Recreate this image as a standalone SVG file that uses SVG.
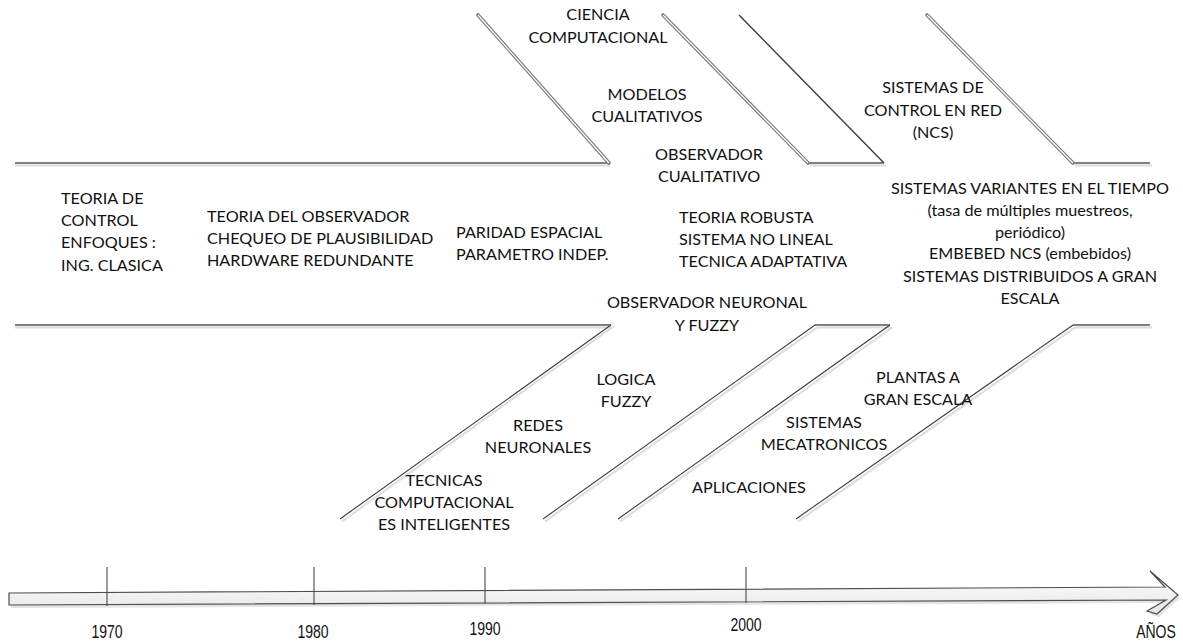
<svg xmlns="http://www.w3.org/2000/svg" width="1183" height="643" viewBox="0 0 1183 643">
  <defs>
    <linearGradient id="shaftFill" x1="0" y1="0" x2="0" y2="1">
      <stop offset="0" stop-color="#ffffff"/>
      <stop offset="1" stop-color="#e6e6e6"/>
    </linearGradient>
    <style>
      text { font-family: Lato, "Liberation Sans", "Noto Sans", sans-serif; font-size: 16.2px; fill: #111111; }
      .c { text-anchor: middle; }
      .yr { font-family: "Liberation Sans", Arial, sans-serif; font-size: 18px; text-anchor: middle; }
      .shadow { stroke: #dcdcdc; stroke-width: 2; fill: none; }
      .flat { stroke: #808080; stroke-width: 2.2; fill: none; }
      .dblOuter { stroke: #7a7a7a; stroke-width: 3.6; fill: none; stroke-linecap: round; }
      .dblInner { stroke: #ffffff; stroke-width: 1.3; fill: none; }
      .dark { stroke: #3c3c3c; stroke-width: 1.4; fill: none; }
      .thin { stroke: #3c3c3c; stroke-width: 1.1; fill: none; }
      .tick { stroke: #4a4a4a; stroke-width: 1.1; }
    </style>
  </defs>

  <rect width="1183" height="643" fill="#ffffff"/>

  <!-- branch lines of the chart -->
  <g id="connectors">
    <!-- drop shadows -->
    <g class="shadow">
      <path d="M15 165.5 H610"/>
      <path d="M810 165.5 H886"/>
      <path d="M1075 165.5 H1152"/>
      <path d="M15 327.5 H612 L342 521.5"/>
      <path d="M817 327.5 H892"/>
      <path d="M817 327.5 L545 521.5"/>
      <path d="M892 327.5 L620 521.5"/>
      <path d="M1075 327.5 H1152"/>
      <path d="M1075 327.5 L798 521.5"/>
    </g>

    <!-- upper branches -->
    <path class="flat" d="M15 163 H609"/>
    <path class="dblOuter" d="M609 163 L478 15"/>
    <path class="dblInner" d="M609 163 L478 15"/>

    <path class="dblOuter" d="M663 15 L808 163"/>
    <path class="dblInner" d="M663 15 L808 163"/>
    <path class="flat" d="M808 163 H884"/>

    <path class="dark" d="M739 15 L884 163"/>

    <path class="dblOuter" d="M927 15 L1073 163"/>
    <path class="dblInner" d="M927 15 L1073 163"/>
    <path class="flat" d="M1073 163 H1150"/>

    <!-- lower branches -->
    <path class="flat" d="M15 325 H611"/>
    <path class="thin" d="M611 325 L340 519"/>

    <path class="flat" d="M815 325 H890"/>
    <path class="thin" d="M815 325 L543 519"/>
    <path class="thin" d="M890 325 L618 519"/>

    <path class="flat" d="M1073 325 H1150"/>
    <path class="thin" d="M1073 325 L796 519"/>
  </g>

  <!-- time axis -->
  <g id="timeline">
    <polygon points="11,596 1167,590 1152,574 1180,598 1159,617 1149,614 1168,603 11,608" fill="#d9d9d9" opacity="0.7"/>
    <polygon points="9,593 1165,587 1150,571 1178,595 1157,614 1147,611 1166,600 9,605" fill="url(#shaftFill)" stroke="#4d4d4d" stroke-width="1.2" stroke-linejoin="miter"/>
    <line class="tick" x1="107" y1="567" x2="107" y2="606"/>
    <line class="tick" x1="314" y1="567" x2="314" y2="605"/>
    <line class="tick" x1="485" y1="567" x2="485" y2="604"/>
    <line class="tick" x1="746" y1="567" x2="746" y2="603"/>
    <text class="yr" transform="translate(107 638) scale(0.78 1)">1970</text>
    <text class="yr" transform="translate(313 638) scale(0.78 1)">1980</text>
    <text class="yr" transform="translate(485 635) scale(0.78 1)">1990</text>
    <text class="yr" transform="translate(746 631) scale(0.78 1)">2000</text>
    <text class="yr" transform="translate(1156 638) scale(0.78 1)">AÑOS</text>
  </g>

  <!-- upper band labels -->
  <g id="node-teoria-control">
    <text x="61" y="204">TEORIA DE</text>
    <text x="61" y="226">CONTROL</text>
    <text x="61" y="248">ENFOQUES :</text>
    <text x="61" y="271">ING. CLASICA</text>
  </g>
  <g id="node-teoria-observador">
    <text x="207" y="222">TEORIA DEL OBSERVADOR</text>
    <text x="207" y="244">CHEQUEO DE PLAUSIBILIDAD</text>
    <text x="207" y="266">HARDWARE REDUNDANTE</text>
  </g>
  <g id="node-paridad">
    <text x="456" y="238">PARIDAD ESPACIAL</text>
    <text x="456" y="260">PARAMETRO INDEP.</text>
  </g>
  <g id="node-teoria-robusta">
    <text x="679" y="223">TEORIA ROBUSTA</text>
    <text x="679" y="245">SISTEMA NO LINEAL</text>
    <text x="679" y="267">TECNICA ADAPTATIVA</text>
  </g>
  <g id="node-variantes" class="c">
    <text x="1030" y="194">SISTEMAS VARIANTES EN EL TIEMPO</text>
    <text x="1030" y="216">(tasa de múltiples muestreos,</text>
    <text x="1030" y="238">periódico)</text>
    <text x="1030" y="259">EMBEBED NCS (embebidos)</text>
    <text x="1030" y="282">SISTEMAS DISTRIBUIDOS A GRAN</text>
    <text x="1030" y="304">ESCALA</text>
  </g>

  <!-- upper branch labels -->
  <g id="node-ciencia" class="c">
    <text x="598" y="20">CIENCIA</text>
    <text x="598" y="43">COMPUTACIONAL</text>
  </g>
  <g id="node-modelos" class="c">
    <text x="647" y="100">MODELOS</text>
    <text x="647" y="122">CUALITATIVOS</text>
  </g>
  <g id="node-obs-cualitativo" class="c">
    <text x="709" y="160">OBSERVADOR</text>
    <text x="709" y="182">CUALITATIVO</text>
  </g>
  <g id="node-ncs" class="c">
    <text x="933" y="93">SISTEMAS DE</text>
    <text x="933" y="116">CONTROL EN RED</text>
    <text x="933" y="138">(NCS)</text>
  </g>

  <!-- lower branch labels -->
  <g id="node-obs-neuronal" class="c">
    <text x="707" y="308">OBSERVADOR NEURONAL</text>
    <text x="707" y="331">Y FUZZY</text>
  </g>
  <g id="node-logica" class="c">
    <text x="626" y="385">LOGICA</text>
    <text x="626" y="407">FUZZY</text>
  </g>
  <g id="node-redes" class="c">
    <text x="538" y="431">REDES</text>
    <text x="538" y="453">NEURONALES</text>
  </g>
  <g id="node-tecnicas" class="c">
    <text x="444" y="486">TECNICAS</text>
    <text x="444" y="508">COMPUTACIONAL</text>
    <text x="444" y="530">ES INTELIGENTES</text>
  </g>
  <g id="node-plantas" class="c">
    <text x="918" y="383">PLANTAS A</text>
    <text x="918" y="405">GRAN ESCALA</text>
  </g>
  <g id="node-mecatronicos" class="c">
    <text x="824" y="428">SISTEMAS</text>
    <text x="824" y="450">MECATRONICOS</text>
  </g>
  <g id="node-aplicaciones" class="c">
    <text x="749" y="493">APLICACIONES</text>
  </g>
</svg>
